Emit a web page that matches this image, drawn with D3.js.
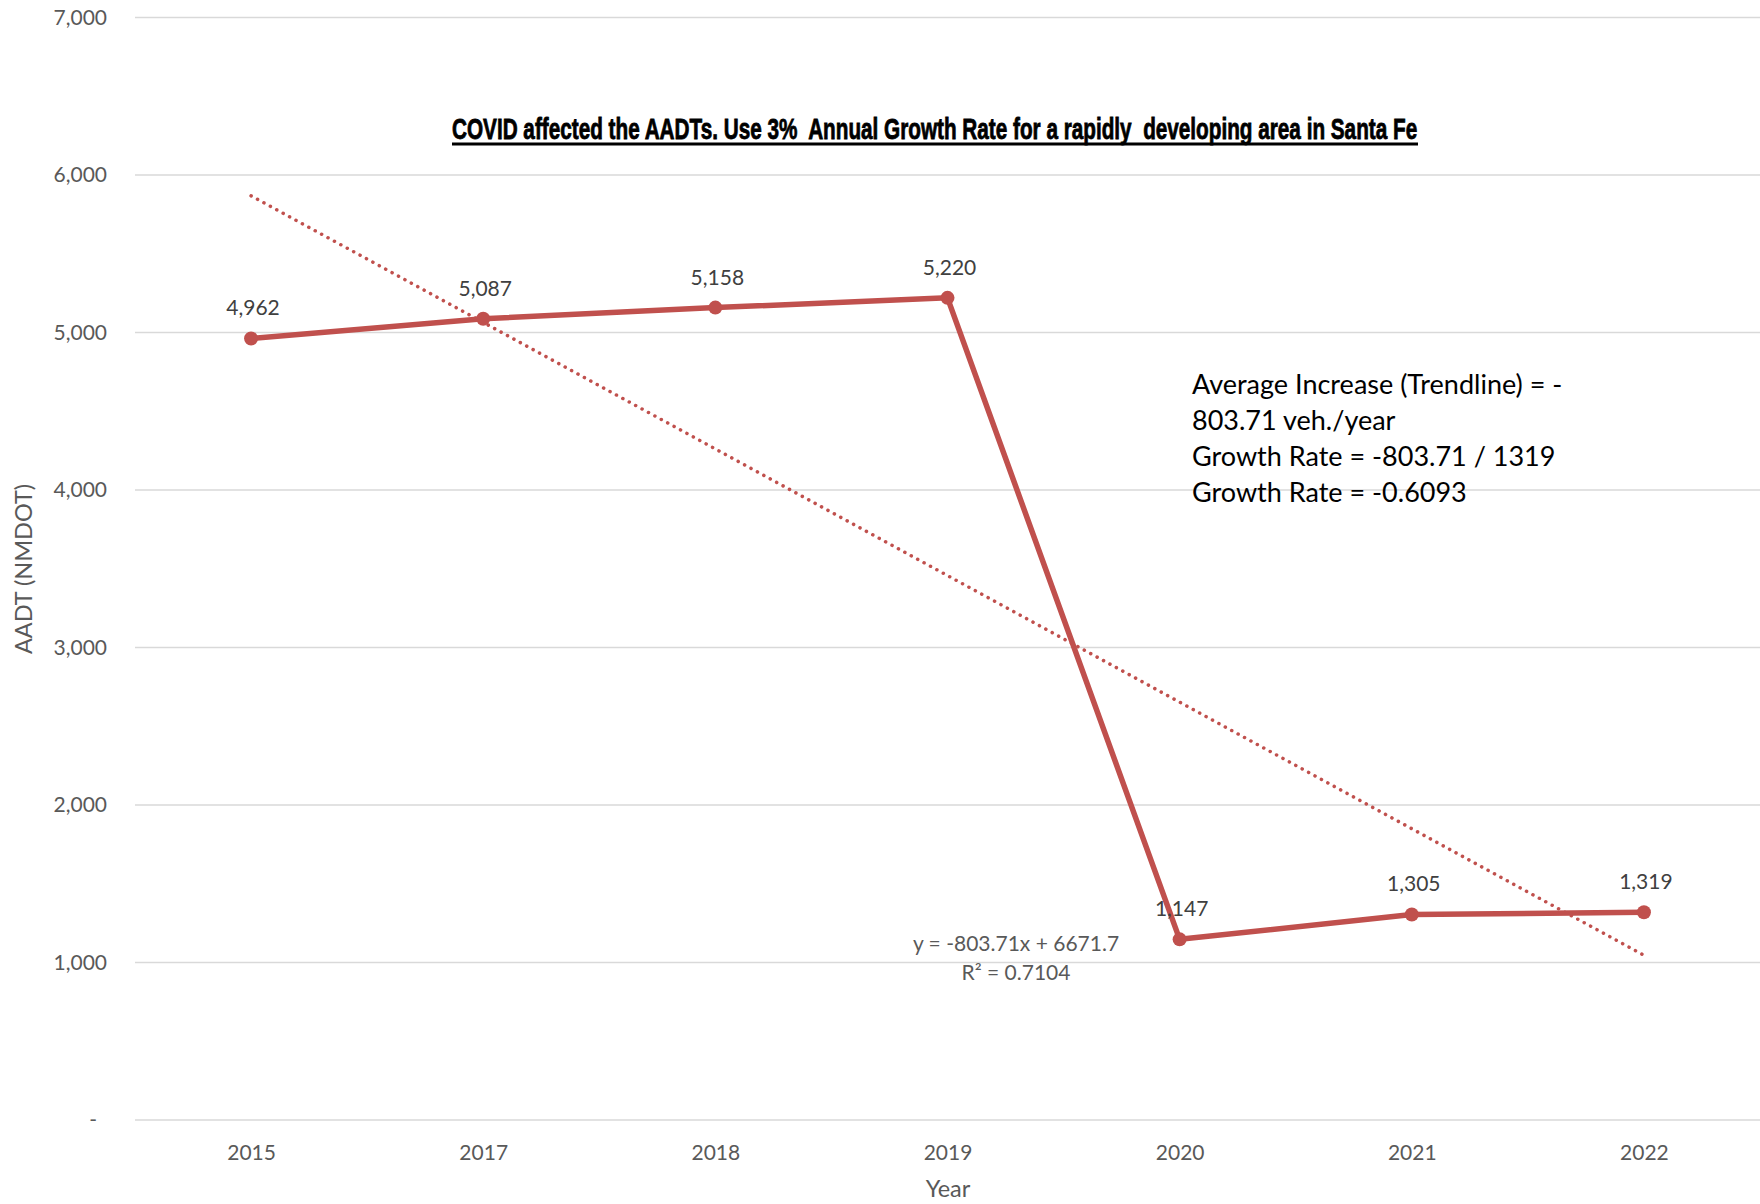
<!DOCTYPE html>
<html>
<head>
<meta charset="utf-8">
<script src="https://cdn.jsdelivr.net/npm/d3@7"></script>
<style>
  html, body { margin: 0; padding: 0; background: #fff; }
  svg { display: block; }
</style>
</head>
<body>
<svg id="chart" width="1760" height="1204"></svg>
<script>
// AADT counts by year (NMDOT)
const years = ["2015", "2017", "2018", "2019", "2020", "2021", "2022"];
const aadt = [4962, 5087, 5158, 5220, 1147, 1305, 1319];
const yTicks = [0, 1000, 2000, 3000, 4000, 5000, 6000, 7000];

// Linear trendline fitted over the category index (1..n)
const trendSlope = -803.71;
const trendIntercept = 6671.7;
const trendEquation = "y = -803.71x + 6671.7";
const trendR2 = "R² = 0.7104";

const titleText = "COVID affected the AADTs. Use 3%  Annual Growth Rate for a rapidly  developing area in Santa Fe";
const noteLines = [
  "Average Increase (Trendline) = -",
  "803.71 veh./year",
  "Growth Rate = -803.71 / 1319",
  "Growth Rate = -0.6093"
];

const red = "#C0504D";
const grey = "#595959";
const font = "Lato, 'Open Sans', sans-serif";

const svg = d3.select("#chart");

const x = d3.scalePoint().domain(years).range([135, 1760]).padding(0.5);
const y = d3.scaleLinear().domain([0, 7000]).range([1120, 17.5]);

// Horizontal gridlines
svg.append("g")
  .selectAll("line")
  .data(yTicks)
  .join("line")
  .attr("x1", 135).attr("x2", 1760)
  .attr("y1", d => y(d)).attr("y2", d => y(d))
  .attr("stroke", "#d9d9d9").attr("stroke-width", 1.5);

// Y axis labels (zero is shown as a dash, offset like an accounting format)
const yAxis = d3.axisLeft(y).tickValues(yTicks)
  .tickFormat(d => d === 0 ? "-" : d3.format(",")(d))
  .tickSize(0).tickPadding(0);
svg.append("g")
  .attr("transform", "translate(107,0)")
  .call(yAxis)
  .call(g => g.select(".domain").remove())
  .call(g => g.selectAll("text")
    .attr("fill", grey).attr("font-family", font).attr("font-size", 21)
    .attr("dx", d => d === 0 ? -10 : 0));

// X axis labels
const xAxis = d3.axisBottom(x).tickSize(0).tickPadding(0);
svg.append("g")
  .attr("transform", "translate(0,1145)")
  .call(xAxis)
  .call(g => g.select(".domain").remove())
  .call(g => g.selectAll("text")
    .attr("fill", grey).attr("font-family", font).attr("font-size", 21));

// Axis titles
svg.append("text")
  .attr("x", 948).attr("y", 1197)
  .attr("text-anchor", "middle")
  .attr("fill", grey).attr("font-family", font).attr("font-size", 23.5)
  .text("Year");
svg.append("text")
  .attr("transform", "translate(32,569) rotate(-90)")
  .attr("text-anchor", "middle")
  .attr("fill", grey).attr("font-family", font).attr("font-size", 23.5)
  .text("AADT (NMDOT)");

// Chart title: a condensed bold face, squeezed horizontally to the underline width
const titleLeft = 452, titleWidth = 966, titleBase = 139;
const titleG = svg.append("g");
const title = titleG.append("text")
  .attr("x", 0).attr("y", 0)
  .style("white-space", "pre")
  .attr("fill", "#000").attr("stroke", "#000").attr("stroke-width", 0.8)
  .attr("font-family", "'Liberation Sans Narrow', 'Liberation Sans', Arial, sans-serif")
  .attr("font-weight", "bold").attr("font-size", 29)
  .text(titleText);
const natural = title.node().getComputedTextLength() || titleWidth;
titleG.attr("transform", `translate(${titleLeft},${titleBase}) scale(${titleWidth / natural},1)`);
svg.append("line")
  .attr("x1", titleLeft).attr("x2", titleLeft + titleWidth).attr("y1", 144).attr("y2", 144)
  .attr("stroke", "#000").attr("stroke-width", 3);

// Trendline (dotted)
const idx = d3.range(1, years.length + 1);
const trendLine = d3.line()
  .x(i => x(years[i - 1]))
  .y(i => y(trendSlope * i + trendIntercept));
svg.append("path")
  .datum([idx[0], idx[idx.length - 1]])
  .attr("d", trendLine)
  .attr("fill", "none").attr("stroke", red)
  .attr("stroke-width", 3.5).attr("stroke-linecap", "round")
  .attr("stroke-dasharray", "0.1,7.2");

// Series line
const pts = years.map((yr, i) => ({ yr, v: aadt[i] }));
svg.append("path")
  .datum(pts)
  .attr("d", d3.line().x(d => x(d.yr)).y(d => y(d.v)))
  .attr("fill", "none").attr("stroke", red)
  .attr("stroke-width", 5.5).attr("stroke-linejoin", "round");

svg.append("g")
  .selectAll("circle")
  .data(pts)
  .join("circle")
  .attr("cx", d => x(d.yr)).attr("cy", d => y(d.v))
  .attr("r", 7).attr("fill", red);

// Data labels
svg.append("g")
  .selectAll("text")
  .data(pts)
  .join("text")
  .attr("x", d => x(d.yr) + 2).attr("y", d => y(d.v) - 23)
  .attr("text-anchor", "middle")
  .attr("fill", "#404040").attr("font-family", font).attr("font-size", 21)
  .text(d => d3.format(",")(d.v));

// Trendline equation
svg.append("text")
  .attr("x", 1016).attr("y", 951)
  .attr("text-anchor", "middle")
  .attr("fill", grey).attr("font-family", font).attr("font-size", 21)
  .text(trendEquation);
svg.append("text")
  .attr("x", 1016).attr("y", 980)
  .attr("text-anchor", "middle")
  .attr("fill", grey).attr("font-family", font).attr("font-size", 21)
  .text(trendR2);

// Growth-rate note
svg.append("g")
  .selectAll("text")
  .data(noteLines)
  .join("text")
  .attr("x", 1192).attr("y", (d, i) => 394 + i * 36)
  .attr("fill", "#000").attr("font-family", font).attr("font-size", 27)
  .text(d => d);
</script>
</body>
</html>
